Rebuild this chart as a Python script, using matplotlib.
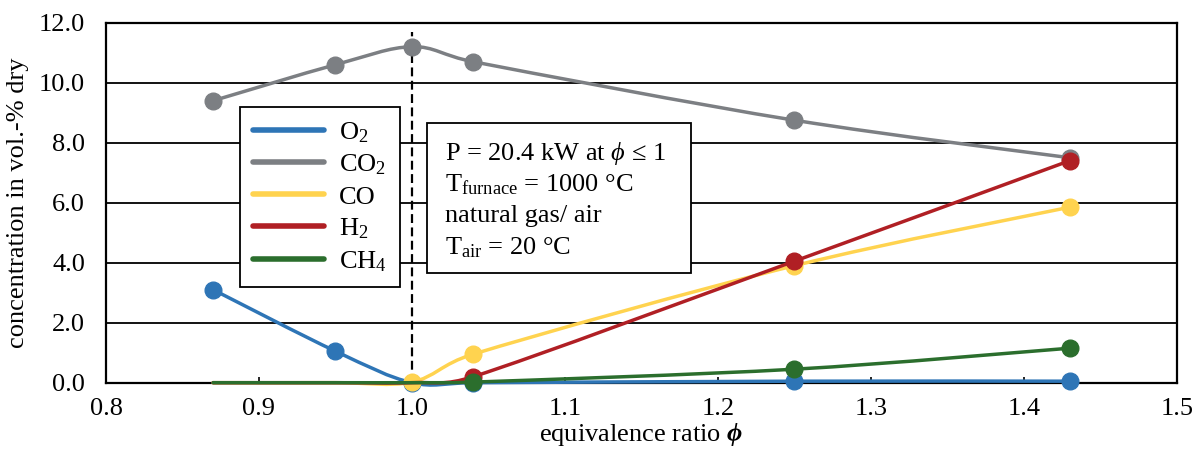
import numpy as np
import matplotlib.pyplot as plt
from matplotlib.path import Path
from matplotlib.patches import PathPatch, Rectangle
from matplotlib.lines import Line2D

plt.rcParams["font.family"] = ["Liberation Serif", "DejaVu Serif"]
plt.rcParams["mathtext.fontset"] = "custom"
plt.rcParams["mathtext.rm"] = "Liberation Serif"
plt.rcParams["mathtext.it"] = "Liberation Serif:italic"
plt.rcParams["mathtext.bf"] = "Liberation Serif:bold"
plt.rcParams["mathtext.bfit"] = "Liberation Serif:italic:bold"

# data
phi = [0.87, 0.95, 1.00, 1.04, 1.25, 1.43]
o2 = [3.1, 1.05, 0.0, 0.0, 0.05, 0.05]
co2 = [9.4, 10.6, 11.2, 10.7, 8.75, 7.5]
co = [0.0, 0.0, 0.02, 0.95, 3.9, 5.85]
h2 = [0.0, 0.0, 0.0, 0.2, 4.05, 7.4]
ch4 = [0.0, 0.0, 0.0, 0.02, 0.45, 1.15]

labels = ["O$_2$", "CO$_2$", "CO", "H$_2$", "CH$_4$"]
series = [o2, co2, co, h2, ch4]
colors = ["#2E75B6", "#7C7F83", "#FFD34F", "#B01F24", "#2B6E2D"]
# indices of points that carry a marker
marked = [[0, 1, 2, 3, 4, 5], [0, 1, 2, 3, 4, 5], [2, 3, 4, 5], [3, 4, 5], [3, 4, 5]]

FS = 19


def smooth_path(ax, x, y):
    # Excel-like smoothed line, worked out in pixel space:
    # Catmull-Rom tangents, capped at half the segment length
    pts = ax.transData.transform(np.column_stack([x, y]))
    n = len(pts)
    verts = [pts[0]]
    codes = [Path.MOVETO]
    for i in range(n - 1):
        p0 = pts[i - 1] if i > 0 else pts[i]
        p1, p2 = pts[i], pts[i + 1]
        p3 = pts[i + 2] if i + 2 < n else pts[i + 1]
        seg = np.hypot(*(p2 - p1))
        t1 = (p2 - p0) / 6
        t2 = (p3 - p1) / 6
        for t in (t1, t2):
            m = np.hypot(*t)
            if m > 0.5 * seg:
                t *= 0.5 * seg / m
        verts += [p1 + t1, p2 - t2, p2]
        codes += [Path.CURVE4] * 3
    verts = ax.transData.inverted().transform(np.array(verts))
    return Path(verts, codes)


fig = plt.figure(figsize=(12.02, 4.57), dpi=100)
ax = fig.add_axes([0.0882, 0.1626, 0.8908, 0.7877])
ax.set_xlim(0.8, 1.5)
ax.set_ylim(0, 12)

clip = Rectangle((0, -0.012), 1, 1.012, transform=ax.transAxes, visible=False)
ax.add_patch(clip)

for k, (vals, col, idx) in enumerate(zip(series, colors, marked)):
    patch = PathPatch(smooth_path(ax, phi, vals), facecolor="none", edgecolor=col,
                      lw=2.5, zorder=3 + k, capstyle="round", joinstyle="round")
    ax.add_patch(patch)
    patch.set_clip_path(clip)
    ax.plot([phi[i] for i in idx], [vals[i] for i in idx], "o", color=col,
            ms=12, zorder=3 + k, clip_on=False)

ax.vlines(1.0, 0, 11.7, colors="black", linestyles=(0, (4, 2)), lw=1.6, zorder=2)

ax.set_xticks(np.arange(0.8, 1.51, 0.1))
ax.set_yticks(np.arange(0, 12.1, 2))
ax.xaxis.set_major_formatter(plt.FormatStrFormatter("%.1f"))
ax.yaxis.set_major_formatter(plt.FormatStrFormatter("%.1f"))
ax.grid(axis="y", color="black", lw=1.3, zorder=1)
ax.tick_params(axis="x", direction="in", length=4, width=1.2, labelsize=FS, pad=11)
ax.tick_params(axis="y", length=0, labelsize=FS, pad=15)
for s in ax.spines.values():
    s.set_linewidth(1.6)
    s.set_zorder(2)

ax.set_xlabel("equivalence ratio $\\mathbfit{\\phi}$", fontsize=FS, labelpad=1)
ax.set_ylabel("concentration in vol.-% dry", fontsize=FS, labelpad=7)

handles = [Line2D([], [], color=c, lw=4, solid_capstyle="round") for c in colors]
leg = ax.legend(handles, labels, loc="upper left", bbox_to_anchor=(0.125, 0.766),
                borderaxespad=0, fontsize=FS, handlelength=2.7, handletextpad=0.55,
                labelspacing=0.3, borderpad=0.5, fancybox=False, framealpha=1,
                edgecolor="black")
leg.get_frame().set_linewidth(1.3)
leg.set_zorder(10)

# info box
ax.add_patch(Rectangle((0.2997, 0.305), 0.2465, 0.416, transform=ax.transAxes,
                       facecolor="white", edgecolor="black", lw=1.3, zorder=10))
info = ["P = 20.4 kW at $\\phi$ ≤ 1",
        "T$_{\\mathrm{furnace}}$ = 1000 °C",
        "natural gas/ air",
        "T$_{\\mathrm{air}}$ = 20 °C"]
for i, line in enumerate(info):
    ax.text(0.3165, 0.638 - i * 0.088, line, transform=ax.transAxes, fontsize=FS,
            va="center", ha="left", zorder=11)

fig.savefig("out.png", dpi=100)
